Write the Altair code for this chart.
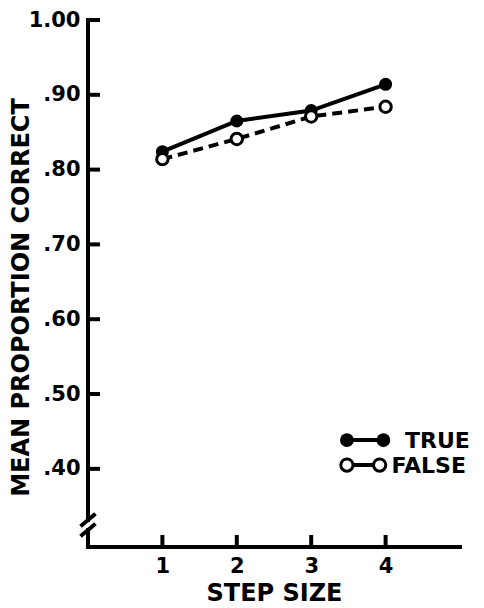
import altair as alt
import pandas as pd

# ---- data ----
steps = [1, 2, 3, 4]
true_vals = [0.824, 0.865, 0.879, 0.914]
false_vals = [0.814, 0.841, 0.871, 0.884]
series_names = ["TRUE", "FALSE"]
y_ticks = [0.4, 0.5, 0.6, 0.7, 0.8, 0.9, 1.0]
x_ticks = [1, 2, 3, 4]
x_title = "STEP SIZE"
y_title = "MEAN PROPORTION CORRECT"

# ---- layout / style constants ----
W, H = 372, 527
Y0, Y1 = 0.2955, 1.0
X0, X1 = 0.0, 5.0
FONT = "DejaVu Sans"
INK = "#000000"
LW = 4

xs = alt.Scale(domain=[X0, X1], nice=False, zero=False)
ys = alt.Scale(domain=[Y0, Y1], nice=False, zero=False)

df = pd.DataFrame({
    "step": steps * 2,
    "value": true_vals + false_vals,
    "series": [series_names[0]] * len(steps) + [series_names[1]] * len(steps),
})

y_axis = alt.Axis(
    values=y_ticks,
    labelExpr="datum.value == 1 ? '1.00' : replace(format(datum.value, '.2f'), '0.', '.')",
    labelPadding=8,
    title=y_title, titleAngle=270, titleAlign="center", titleBaseline="middle",
    titleFontSize=24, titleX=-67, titleY=277,
)
x_axis = alt.Axis(
    values=x_ticks, format="d",
    labelPadding=8,
    title=x_title, titleAlign="center", titleBaseline="middle",
    titleFontSize=24, titleX=186, titleY=46,
)

def X(field="step", axis=None):
    if axis is None:
        return alt.X(f"{field}:Q", scale=xs, title=x_title)
    return alt.X(f"{field}:Q", scale=xs, axis=axis, title=x_title)

def Y(field="value", axis=None):
    if axis is None:
        return alt.Y(f"{field}:Q", scale=ys, title=y_title)
    return alt.Y(f"{field}:Q", scale=ys, axis=axis, title=y_title)

base = alt.Chart(df)

true_line = base.transform_filter(alt.datum.series == "TRUE").mark_line(
    color=INK, strokeWidth=LW).encode(x=X(axis=x_axis), y=Y(axis=y_axis))
false_line = base.transform_filter(alt.datum.series == "FALSE").mark_line(
    color=INK, strokeWidth=LW, strokeDash=[10, 6]).encode(x=X(), y=Y())
true_pts = base.transform_filter(alt.datum.series == "TRUE").mark_point(
    shape="circle", filled=True, color=INK, size=170, opacity=1).encode(x=X(), y=Y())
false_pts = base.transform_filter(alt.datum.series == "FALSE").mark_point(
    shape="circle", fill="white", stroke=INK, strokeWidth=3, size=130, opacity=1,
    fillOpacity=1).encode(x=X(), y=Y())

# hand-drawn style axes: lines, inward ticks and axis break
BREAK_HI, BREAK_MID, BREAK_LO = 0.3383, 0.3249, 0.3115
seg = pd.DataFrame({
    "step":  [0, 0, 0, -0.08, -0.08],
    "step2": [0, 0, 5, 0.08, 0.08],
    "value":  [Y1, 0.3182, Y0, BREAK_MID, BREAK_LO],
    "value2": [0.3316, Y0, Y0, BREAK_HI, BREAK_MID],
})
axis_lines = alt.Chart(seg).mark_rule(color=INK, strokeWidth=LW, strokeCap="square").encode(
    x=X(), x2="step2:Q", y=Y(), y2="value2:Q")

yt = pd.DataFrame({"value": y_ticks})
y_tick_marks = alt.Chart(yt).mark_rule(color=INK, strokeWidth=LW).encode(
    y=Y(), x=alt.value(0), x2=alt.value(12))
xt = pd.DataFrame({"step": x_ticks})
x_tick_marks = alt.Chart(xt).mark_rule(color=INK, strokeWidth=LW).encode(
    x=X(), y=alt.value(H - 12), y2=alt.value(H))

# legend drawn inside the plot
leg = pd.DataFrame({
    "series": series_names,
    "value": [0.4385, 0.405],
    "step": [3.48, 3.48],
    "step2": [3.97, 3.92],
    "tx": [4.26, 4.08],
})
leg_line = alt.Chart(leg).mark_rule(color=INK, strokeWidth=LW).encode(
    x=X(), x2="step2:Q", y=Y())
leg_true = alt.Chart(leg).transform_filter(alt.datum.series == "TRUE").transform_fold(
    ["step", "step2"], as_=["k", "sx"]).mark_point(
    shape="circle", filled=True, color=INK, size=190, opacity=1).encode(x=X("sx"), y=Y())
leg_false = alt.Chart(leg).transform_filter(alt.datum.series == "FALSE").transform_fold(
    ["step", "step2"], as_=["k", "sx"]).mark_point(
    shape="circle", fill="white", stroke=INK, strokeWidth=3, size=150, opacity=1,
    fillOpacity=1).encode(x=X("sx"), y=Y())
leg_text = alt.Chart(leg).mark_text(
    align="left", baseline="middle", font=FONT, fontSize=22, fontWeight="bold",
    color=INK, dy=1).encode(x=X("tx"), y=Y(), text="series:N")

chart = alt.layer(
    true_line, axis_lines, y_tick_marks, x_tick_marks,
    false_line, true_pts, false_pts,
    leg_line, leg_true, leg_false, leg_text,
).properties(
    width=W, height=H,
    padding={"left": 80, "top": 12, "right": 16, "bottom": 61},
    autosize=alt.AutoSizeParams(type="none"),
    background="white",
).configure_view(stroke=None).configure_axis(
    domain=False, ticks=False, grid=False,
    labelFont=FONT, labelFontSize=21, labelFontWeight="bold", labelColor=INK,
    titleFont=FONT, titleFontSize=23, titleFontWeight="bold", titleColor=INK,
    labelOverlap=False,
)

chart.save("out.html", embed_options={"renderer": "svg", "actions": False})
